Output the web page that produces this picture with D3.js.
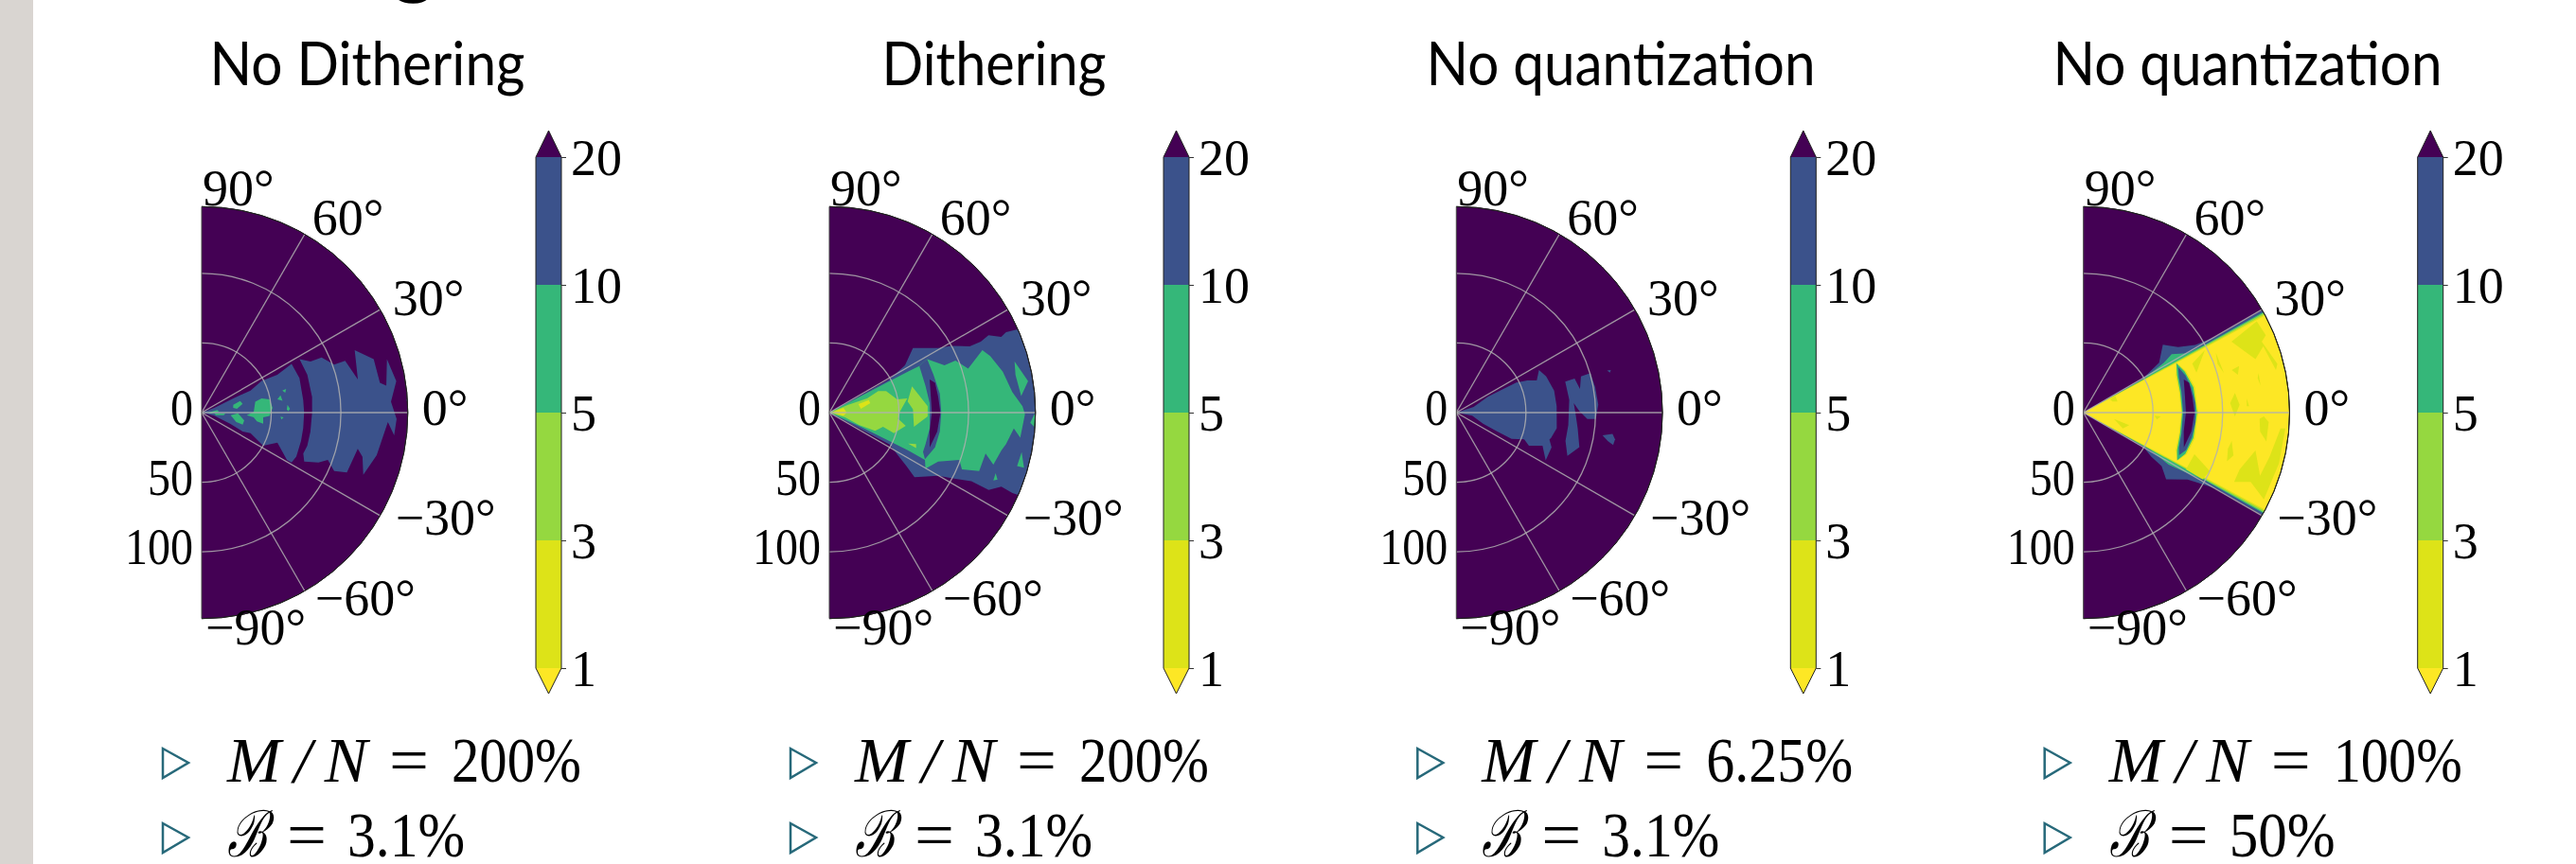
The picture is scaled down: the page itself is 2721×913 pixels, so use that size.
<!DOCTYPE html>
<html lang="en">
<head>
<meta charset="UTF-8">
<title>Polar contour panels</title>
<script src="https://cdn.jsdelivr.net/npm/d3@7"></script>
<style>
  html, body { margin: 0; padding: 0; background: #fff; overflow: hidden; }
  text { fill: #000; }
  .serif { font-family: "Liberation Serif", serif; }
  .title { font-family: Lato, sans-serif; font-size: 64px; text-anchor: middle; }
</style>
</head>
<body>
<svg width="2721" height="913"></svg>
<script>
// colour bands, one value per band of the colour bar
var levels = [1, 3, 5, 10, 20];
var bandColors = ["#fde725", "#dde318", "#95d840", "#35b779", "#3b528b", "#440154"];
var Y1 = 0.5, Y3 = 2, L5 = 4, G10 = 7, B20 = 15, P = 25;

var titles = ["No Dithering", "Dithering", "No quantization", "No quantization"];
var ratios = ["200%", "200%", "6.25%", "100%"];
var bandwidths = ["3.1%", "3.1%", "3.1%", "50%"];
var angleTicks = [90, 60, 30, 0, -30, -60, -90];
var radiusTicks = [0, 50, 100];
var gridAngles = [60, 30, 0, -30, -60];
var gridRadii = [50, 100];

// outlines, every point is [angle in degrees, radius]
var p1BlueIn = [[0,0],[20.6,9.7],[24.2,24.9],[24.3,38.5],[27.8,48.7],[26.6,60.8],[28.5,73.5],[19.5,74.5],[7.1,73.5],[0,73.6],[-8.8,73.8],[-15.9,74.2],[-25,75],[-29,73.8],[-29,70],[-21.6,58.5],[-28.3,50.2],[-22.8,38.1],[-24.8,32.4],[-21.3,21.9],[-14,9.3]];
var p1BlueOut = [[28.7,80.1],[25.2,86.4],[24.7,94.8],[19.9,101.2],[19.9,109.6],[12,114.7],[22.2,118.7],[17.3,129.4],[9.5,129.8],[8.3,134],[16.1,138.5],[9.2,141.6],[3.3,136.2],[-1.9,140.1],[-6.7,139.2],[-2.9,133.9],[-13.7,129.4],[-21.1,124.4],[-15.4,119.8],[-13.1,115.1],[-22.4,112.8],[-23.8,104],[-20.6,96.8],[-23.1,91.2],[-25.5,81.6],[-22,78.7],[-17.4,79.5],[-9.9,79.3],[0,79.3],[8.1,80.1],[19.7,80.6]];
var p1BlueDot = [[3.5,147],[4.5,150],[2,150]];
var p1GreenA = [[11.6,39.3],[13.3,44.2],[11.1,49.6],[3.8,51.1],[-2.7,48.8],[-4.4,44.3],[-10.2,44.9],[-9.1,40.2],[-5.2,37.5],[-3.2,32.4],[0.7,37.4]];
var p1GreenB = [[-5,20.9],[-1,26.1],[-10.5,31.1],[-16.3,30.7],[-15.3,25.8]];
var p1GreenC = [[14,23.4],[16.9,28.9],[12.2,30.1],[6.1,25.5],[8.5,22.9]];
var p1GreenD = [[0,4.5],[9.1,11.5],[2.1,12.5],[-5.7,6.8]];
var p1GreenE = [[-2.9,9.1],[-2.3,17],[-6.5,16],[-10,10.4]];
var p1GreenF = [[9.9,55.2],[12.4,58],[8.4,58.7]];
var p1GreenG = [[15.3,60],[15.6,63],[13.4,61.7]];
var p1GreenH = [[5.2,61.9],[2.5,63.5],[1,62.3],[2.1,61.2]];
var p1GreenI = [[-3,56.7],[-3.3,59],[-5,57.5]];

var p2Blue = [[0,0],[28.9,49.2],[32,64.1],[37.7,75.9],[30.7,90.9],[28.8,99.6],[25.3,111.5],[25.1,120.1],[25.9,127.1],[23.8,134.9],[24.5,139.5],[23.7,150],[12,150],[0,150],[-12,150],[-23.5,150],[-23.7,143.6],[-23.3,134.5],[-25.9,127.2],[-25.8,113.3],[-27.7,102.4],[-30.1,90.4],[-37.2,76.8],[-34.8,67.6],[-27.8,48.7]];
var p2Green = [[0,0],[27.5,25.6],[27.6,49.9],[27.5,63.9],[27.4,72.8],[28.7,80.1],[22.3,89.4],[22.4,98],[17.6,104.6],[22.2,118.7],[19.4,122.5],[13.3,128],[6.4,132.2],[1.9,138.8],[-0.5,140.5],[-7.5,138.3],[-4.9,133],[-10.1,128.9],[-12.4,126.5],[-17.6,123.6],[-14.7,116],[-21.3,115.5],[-23.2,103.6],[-20,99.4],[-24.2,85.7],[-30.3,80],[-26.3,76.6],[-25.6,62.8],[-25.3,47.6],[-24.2,24.8]];
var p2GreenB = [[15.4,138],[9,144.5],[4.9,138.3],[11.5,136.4]];
var p2GreenC = [[-0.4,147.3],[-2.9,144.5],[-4,147.6],[-2,150]];
var p2GreenD = [[-11.6,141],[-15.8,145.3],[-15.9,140.2]];
var p2GreenE = [[-20,127.1],[-21.7,130],[-22.5,127.5]];
var p2LimeA = [[0,0],[22.6,14.7],[20.6,29],[23.7,38.4],[20.7,43.6],[11,49.6],[10.3,56.9],[0,50.3],[-5.2,49.6],[-9.8,55.7],[-17.6,48.7],[-14.8,39.9],[-21.8,35.4],[-22.8,23.4],[-16.7,11.8]];
var p2LimeB = [[17.6,62.3],[3.7,70.8],[-2.2,70.7],[-9.5,61.6],[2.2,60.1],[8,56.8]];
var p2LimeC = [[-21.4,60.8],[-20,66.3],[-22.3,67.4]];
var p2YellowA = [[0,2],[14,4.6],[18.4,10.7],[0,12.5],[-12.5,10.4]];
var p2YellowB = [[16.4,21.8],[17.7,29.7],[13,30.2],[6.8,22.8]];
var p2Arc = [[27.4,72.8],[28.7,80.1],[20,79.6],[9.7,80.5],[0,80.4],[-9.7,80.5],[-18.2,79.9],[-26,76.4],[-22.8,73],[-18.2,72.7],[-8.9,73],[5.4,72.4],[15.6,71.7]];
var p2Gap = [[18.3,75.9],[15.8,78.9],[8.2,79],[0,79.8],[-10,78.7],[-19.1,76.3],[-10.7,73.3],[0,73.6],[8.8,73.8]];

var p3BlueA = [[0,0],[18.1,13.1],[26.6,25.3],[26.6,35.5],[26.6,48.1],[24.4,56],[21.8,62.2],[27.3,66.8],[22,69.6],[12.7,72],[3.6,72.2],[-8.9,73],[-14.9,70.4],[-16.1,69.6],[-20,72.8],[-28.2,72.8],[-21,66.3],[-24.5,57.3],[-21.6,52.4],[-25.4,43.9],[-24.8,32.4],[-22.4,20.8],[-11.3,11.6]];
var p3BlueB = [[15.9,81.3],[16.1,88.4],[10.8,90.4],[16.2,93.2],[16.4,100.4],[10.3,101.4],[3.2,102.1],[-2.6,100.3],[-2.8,94.2],[0.7,88.4],[4.6,84.6],[-0.8,85.7],[-7.4,87.9],[-15.7,91.8],[-21.3,85.6],[-14.6,81],[-6.4,80.9],[6.4,81.6]];
var p3BlueC = [[15.6,112.4],[15.4,115.1],[14.6,114]];
var p3BlueD = [[-8.8,106.2],[-7.8,113.2],[-9.6,115.6],[-11.7,115],[-10.6,110.6]];

var p4Blue = [[0,0],[30,50],[32,57.5],[33.4,65.1],[40.5,75],[34.7,82.7],[31.2,93.9],[29.8,110],[29.8,150],[15,150],[0,150],[-15,150],[-29.8,150],[-29.8,110],[-32.7,88.9],[-38.9,76.3],[-34.4,68],[-33,58],[-30,50]];
var p4Green = [[0,0],[29.2,50],[31.8,68],[33.5,76],[29.7,86],[29.2,100],[29.2,150],[15,150],[0,150],[-15,150],[-29.2,150],[-29.2,100],[-30.4,84],[-31.4,71.7],[-29.2,55]];
var p4Lime = [[0,0],[28.9,40],[28.9,150],[15,150],[0,150],[-15,150],[-28.9,150],[-28.9,40]];
var p4Pale = [[0,0],[28.5,40],[28.5,150],[15,150],[0,150],[-15,150],[-28.5,150],[-28.5,40]];
var p4Yellow = [[0,0],[28.1,40],[28.1,150],[15,150],[0,150],[-15,150],[-28.1,150],[-28.1,40]];
var p4PatchA = [[25.6,117.9],[27.2,133.8],[27.8,140.7],[23,142.3],[21.7,137.8],[14.1,143.6],[12.5,141.6],[20.2,137.6],[17.3,129.4],[20.9,123.7]];
var p4PatchB = [[24.3,104.3],[15.7,104.8],[20,102.5]];
var p4PatchC = [[24.2,85.7],[27.2,98],[19.5,86.1]];
var p4PatchD = [[16,110.8],[16.7,116.7],[13.8,114.2]];
var p4PatchE = [[3.7,105.6],[7.4,109.7],[2.9,112.3],[-1.4,108.8]];
var p4PatchF = [[5,117.7],[2.2,119],[2.2,117.4]];
var p4PatchG = [[12.7,128.9],[8.6,128.7],[11.2,127.6]];
var p4PatchH = [[-2,126.6],[-1.2,129.6],[-2.9,133.2],[-9,133],[-6.1,127.6]];
var p4PatchI = [[-10.8,108.4],[-15.9,112],[-18.8,108.9],[-14.1,107]];
var p4PatchJ = [[-24.7,119.1],[-20,119.4],[-12.4,126.5],[-19.7,134.7],[-13.3,137.4],[-4.6,142],[-4.5,145.5],[-14.5,145.1],[-25.7,143.8],[-22.5,130]];
var p4PatchK = [[-29,84.2],[-20.6,85.2],[-24.8,99.9],[-29.3,98.1]];
var p4PatchL = [[26.3,21.3],[28,25.9],[18,25.7],[20.8,22.3]];
var p4PatchM = [[-11.6,22.4],[-15.4,34.1],[-21.8,30.5]];
var p4PatchN = [[-2.5,51],[-2.8,55.6],[-5.4,53]];
var p4ArcPale = [[28,76],[22,79.5],[13,82],[0,82.5],[-13,82],[-22,80],[-27,76],[-22,71.5],[-12,70.3],[0,70.3],[12,70.3],[22,71.5]];
var p4ArcGreen = [[28,75.5],[22,78.5],[13,81],[0,81.6],[-13,81],[-22,79],[-27,75.5],[-22,72.5],[-12,71],[0,70.9],[12,71],[22,72.5]];
var p4ArcBlue = [[25.8,75.5],[20,78],[13,79.5],[5,80.7],[-5,80.7],[-13,79.8],[-20,78.5],[-24,75.2],[-20,73],[-12,72],[0,71.6],[12,72],[20,73]];
var p4Gap = [[18.3,75.9],[15.8,78.9],[8.2,79],[0,79.8],[-10,78.7],[-19.1,76.3],[-10.7,73.3],[0,73.6],[8.8,73.8]];

// paint order per panel, lowest value first
var panelShapes = [
  [[B20,p1BlueIn],[B20,p1BlueOut],[B20,p1BlueDot],[G10,p1GreenA],[G10,p1GreenB],[G10,p1GreenC],[G10,p1GreenD],[G10,p1GreenE],[G10,p1GreenF],[G10,p1GreenG],[G10,p1GreenH],[G10,p1GreenI]],
  [[B20,p2Blue],[G10,p2Green],[G10,p2GreenB],[G10,p2GreenC],[G10,p2GreenD],[G10,p2GreenE],[L5,p2LimeA],[L5,p2LimeB],[L5,p2LimeC],[Y3,p2YellowA],[Y3,p2YellowB],[B20,p2Arc],[P,p2Gap]],
  [[B20,p3BlueA],[B20,p3BlueB],[B20,p3BlueC],[B20,p3BlueD]],
  [[B20,p4Blue],[G10,p4Green],[L5,p4Lime],[Y3,p4Pale],[Y1,p4Yellow],[Y3,p4PatchA],[Y3,p4PatchB],[Y3,p4PatchC],[Y3,p4PatchD],[Y3,p4PatchE],[Y3,p4PatchF],[Y3,p4PatchG],[Y3,p4PatchH],[Y3,p4PatchI],[Y3,p4PatchJ],[Y3,p4PatchK],[Y3,p4PatchL],[Y3,p4PatchM],[Y3,p4PatchN],[Y3,p4ArcPale],[G10,p4ArcGreen],[B20,p4ArcBlue],[P,p4Gap]]
];

var panelX = [213, 876, 1538.3, 2200.7];
var titleX = [388, 1050, 1712, 2374];
var titleW = [333, 237, 411, 411];
var ratioW = [137, 137, 155, 136];
var bandW = [124, 124, 124, 112];

var svg = d3.select("svg");
var rMax = 148, cy = 436, R = 217.7;

var color = d3.scaleThreshold().domain(levels).range(bandColors);
var r = d3.scaleLinear().domain([0, rMax]).range([0, R]);
// d3 radial angles start at 12 o'clock and run clockwise
var theta = d3.scaleLinear().domain([90, -90]).range([0, Math.PI]);

var outline = d3.lineRadial()
  .angle(function(d) { return theta(d[0]); })
  .radius(function(d) { return r(d[1]); })
  .curve(d3.curveLinearClosed);

var halfDisc = d3.arc().innerRadius(0).outerRadius(R).startAngle(0).endAngle(Math.PI);
var rim = d3.arc().innerRadius(R).outerRadius(R).startAngle(0).endAngle(Math.PI);

svg.append("clipPath").attr("id", "disc").append("path").attr("d", halfDisc());

svg.append("rect").attr("width", 35).attr("height", 913).attr("fill", "#d9d5d1");

// the slide heading is cut off by the top edge, only its descenders show
svg.append("text").attr("x", 414).attr("y", -13).attr("font-family", "Lato, sans-serif").attr("font-size", 88).attr("font-weight", 700).text("g");
svg.append("text").attr("x", 996).attr("y", -19).attr("font-family", "Lato, sans-serif").attr("font-size", 88).attr("font-weight", 700).text("y");

function fit(sel, width) {
  sel.attr("textLength", width).attr("lengthAdjust", "spacingAndGlyphs");
}

titles.forEach(function(t, i) {
  svg.append("text").attr("class", "title").attr("x", titleX[i]).attr("y", 90).text(t).call(fit, titleW[i]);
});

panelX.forEach(function(cx, i) {
  var g = svg.append("g").attr("transform", "translate(" + cx + "," + cy + ")");

  g.append("path").attr("d", halfDisc()).attr("fill", color(P));

  g.append("g").attr("clip-path", "url(#disc)")
    .selectAll("path")
    .data(panelShapes[i])
    .enter().append("path")
    .attr("d", function(d) { return outline(d[1]); })
    .attr("fill", function(d) { return color(d[0]); });

  // grid
  var grid = g.append("g").attr("fill", "none").attr("stroke", "#b0b0b0").attr("stroke-opacity", 0.85).attr("stroke-width", 1.3);
  gridRadii.forEach(function(v) {
    grid.append("path").attr("d", d3.arc().innerRadius(r(v)).outerRadius(r(v)).startAngle(0).endAngle(Math.PI)());
  });
  gridAngles.forEach(function(a) {
    grid.append("path").attr("d", d3.lineRadial()([[theta(a), 0], [theta(a), R]]));
  });

  g.append("path").attr("d", rim()).attr("fill", "none").attr("stroke", "#222").attr("stroke-width", 1);
  g.append("path").attr("d", d3.lineRadial()([[0, R], [0, 0], [Math.PI, R]])).attr("fill", "none").attr("stroke", "#444").attr("stroke-width", 1);

  // angle labels
  g.selectAll("text.angle")
    .data(angleTicks)
    .enter().append("text")
    .attr("class", "angle serif")
    .attr("font-size", 54)
    .attr("x", function(a) { return (R + 14) * Math.cos(a * Math.PI / 180) + (a < 0 ? 4 : 1); })
    .attr("y", function(a) { return -(R + 14) * Math.sin(a * Math.PI / 180) + 13; })
    .text(function(a) { return (a < 0 ? "\u2212" + (-a) : a) + "\u00b0"; });

  // radius labels
  g.selectAll("text.radius")
    .data(radiusTicks)
    .enter().append("text")
    .attr("class", "radius serif")
    .attr("font-size", 54)
    .attr("text-anchor", "end")
    .attr("x", -9)
    .attr("y", function(v) { return r(v) + 13; })
    .attr("textLength", function(v) { return String(v).length * 24; })
    .attr("lengthAdjust", "spacingAndGlyphs")
    .text(function(v) { return v; });

  // colour bar
  var barX = 353, barW = 27;
  var barY = d3.scalePoint().domain(levels).range([270, -270]);
  var cb = g.append("g").attr("transform", "translate(" + barX + ",0)");
  cb.selectAll("rect")
    .data(d3.pairs(levels))
    .enter().append("rect")
    .attr("x", 0)
    .attr("width", barW)
    .attr("y", function(d) { return barY(d[1]); })
    .attr("height", function(d) { return barY(d[0]) - barY(d[1]); })
    .attr("fill", function(d) { return color(d[0]); });
  cb.append("path").attr("d", "M0," + barY(20) + "L" + barW / 2 + "," + (barY(20) - 28) + "L" + barW + "," + barY(20) + "Z").attr("fill", color(P));
  cb.append("path").attr("d", "M0," + barY(1) + "L" + barW / 2 + "," + (barY(1) + 27) + "L" + barW + "," + barY(1) + "Z").attr("fill", color(Y1));
  cb.append("path")
    .attr("d", "M0," + barY(20) + "L" + barW / 2 + "," + (barY(20) - 28) + "L" + barW + "," + barY(20) + "V" + barY(1) + "L" + barW / 2 + "," + (barY(1) + 27) + "L0," + barY(1) + "Z")
    .attr("fill", "none").attr("stroke", "#222").attr("stroke-width", 1);

  var axis = cb.append("g").attr("transform", "translate(" + barW + ",0)")
    .call(d3.axisRight(barY).tickSize(5).tickPadding(5));
  axis.select(".domain").remove();
  axis.selectAll("line").attr("stroke", "#333");
  axis.selectAll("text").attr("class", "serif").attr("font-size", 54).attr("fill", "#000").attr("dy", 18);

  // bullet list under the panel
  var rows = [390, 469];
  rows.forEach(function(y, k) {
    g.append("path")
      .attr("d", "M-41," + (y - 35) + "L-14," + (y - 20) + "L-41," + (y - 4) + "Z")
      .attr("fill", "none").attr("stroke", "#27697a").attr("stroke-width", 2.5);
    var row = g.append("g").attr("class", "serif").attr("font-size", 68);
    if (k === 0) {
      row.append("text").attr("font-style", "italic").attr("x", 27).attr("y", y).attr("textLength", 148).attr("lengthAdjust", "spacing").text("M/N");
      row.append("text").attr("x", 198).attr("y", y).text("=").call(fit, 42);
      row.append("text").attr("x", 264).attr("y", y).text(ratios[i]).call(fit, ratioW[i]);
    } else {
      row.append("text").attr("font-style", "italic").attr("x", 27).attr("y", y).text("\u212c").call(fit, 42);
      row.append("text").attr("x", 90).attr("y", y).text("=").call(fit, 42);
      row.append("text").attr("x", 154).attr("y", y).text(bandwidths[i]).call(fit, bandW[i]);
    }
  });
});
</script>
</body>
</html>
